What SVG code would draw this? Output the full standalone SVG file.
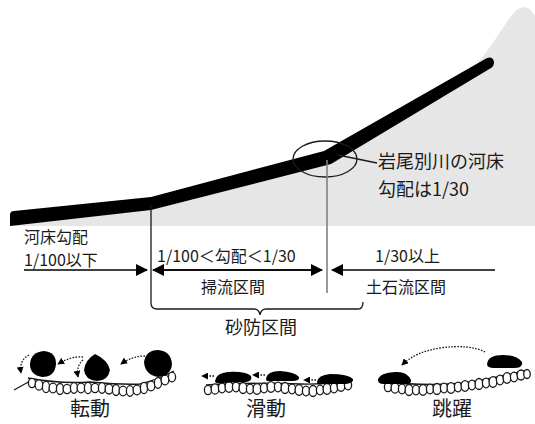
<svg xmlns="http://www.w3.org/2000/svg" width="535" height="424" viewBox="0 0 535 424">
  <style>
    text { font-family: "Noto Sans CJK JP", "Noto Sans", sans-serif; fill: #1a1a1a; }
    .t16 { font-size: 16px; }
    .t18 { font-size: 18px; }
    .t20 { font-size: 20px; }
    .thin { fill: none; stroke: #1a1a1a; stroke-width: 1.3; }
    .dot { fill: none; stroke: #1a1a1a; stroke-width: 1.3; stroke-dasharray: 1.6 1.4; }
    .peb ellipse { fill: #fff; stroke: #1a1a1a; stroke-width: 1.3; }
    .rock { fill: #000; }
  </style>
  <defs>
    <marker id="head" viewBox="0 0 12 12" refX="11" refY="6" markerWidth="12" markerHeight="13" markerUnits="userSpaceOnUse" orient="auto">
      <path d="M0,0 L12,6 L0,12 z" fill="#000"/>
    </marker>
    <marker id="small" viewBox="0 0 8 8" refX="7" refY="4" markerWidth="7" markerHeight="7" markerUnits="userSpaceOnUse" orient="auto">
      <path d="M0,0 L8,4 L0,8 z" fill="#000"/>
    </marker>
  </defs>

  <!-- mountain slope (grey) -->
  <path id="hill" d="M535,16 C530,6 521,3 512,15 C498,34 484,60 452,92 L327,158 L151,204 L10,218 L10,226 L535,226 Z" fill="#e6e6e6"/>

  <!-- river bed profile -->
  <path id="bed" d="M14,211 L151,197 L324,151 L487,58 Q493,56 494,62 Q494,66 491,68 L331,164 L151,210 L10,226 L10,215 Q10,211 14,211 Z" fill="#000"/>

  <!-- gradient callout -->
  <g id="callout">
    <ellipse cx="325" cy="159" rx="32" ry="18" class="thin"/>
    <line x1="338" y1="155" x2="377" y2="163" class="thin"/>
    <text class="t18" x="378" y="168">岩尾別川の河床</text>
    <text class="t18" x="378" y="196">勾配は1/30</text>
  </g>

  <g id="connectors">
    <!-- section boundaries -->
    <path d="M151,205 L151,303 Q151,309 157,309 L254,309 Q259,309 260,315 Q261,309 266,309 L358,309 Q363,309 363,302" class="thin"/>
    <line x1="327" y1="160" x2="327" y2="293" stroke="#808080" stroke-width="1.6"/>
    <!-- range arrows -->
    <line x1="24" y1="270" x2="147" y2="270" stroke="#000" stroke-width="1.3" marker-end="url(#head)"/>
    <line x1="322" y1="270" x2="153" y2="270" stroke="#000" stroke-width="1.3" marker-end="url(#head)"/>
    <line x1="153" y1="270" x2="322" y2="270" stroke="#000" stroke-width="1.3" marker-end="url(#head)"/>
    <line x1="495" y1="270" x2="332" y2="270" stroke="#000" stroke-width="1.3" marker-end="url(#head)"/>
  </g>

  <g id="labels">
    <text class="t16" x="24" y="243">河床勾配</text>
    <text class="t16" x="24" y="266">1/100以下</text>
    <text class="t16" x="157" y="262">1/100＜勾配＜1/30</text>
    <text class="t16" x="375" y="262">1/30以上</text>
    <text class="t16" x="201" y="293">掃流区間</text>
    <text class="t16" x="366" y="293">土石流区間</text>
    <text class="t18" x="225" y="334">砂防区間</text>
  </g>

  <!-- rolling -->
  <g id="rolling">
    <path d="M14,390 L32,380" class="thin"/>
    <path d="M28,378 Q60,384 90,382 Q125,385 140,384 Q160,379 174,371" class="thin"/>
    <g class="peb">
      <ellipse cx="32" cy="383" rx="3.6" ry="4.6"/><ellipse cx="39" cy="385" rx="3.9" ry="5.2"/>
      <ellipse cx="46" cy="387" rx="3.6" ry="5.6"/><ellipse cx="53" cy="388" rx="3.9" ry="4.8"/>
      <ellipse cx="60" cy="389" rx="3.6" ry="5.5"/><ellipse cx="67" cy="389" rx="3.9" ry="4.6"/>
      <ellipse cx="74" cy="388" rx="3.6" ry="5.3"/><ellipse cx="81" cy="388" rx="3.9" ry="4.8"/>
      <ellipse cx="88" cy="388" rx="3.6" ry="5.6"/><ellipse cx="95" cy="388" rx="3.9" ry="4.6"/>
      <ellipse cx="102" cy="388" rx="3.6" ry="5.3"/><ellipse cx="109" cy="389" rx="3.9" ry="5"/>
      <ellipse cx="116" cy="390" rx="3.6" ry="5.5"/><ellipse cx="123" cy="391" rx="3.9" ry="4.8"/>
      <ellipse cx="130" cy="391" rx="3.6" ry="5.3"/><ellipse cx="137" cy="390" rx="3.9" ry="4.8"/>
      <ellipse cx="144" cy="388" rx="3.6" ry="5.6"/><ellipse cx="151" cy="386" rx="3.9" ry="4.8"/>
      <ellipse cx="158" cy="383" rx="3.6" ry="5.3"/><ellipse cx="165" cy="380" rx="3.9" ry="4.8"/>
      <ellipse cx="172" cy="377" rx="3.6" ry="4.8"/>
    </g>
    <path class="rock" d="M30,364 Q31,352 44,351 Q56,352 56,364 Q55,377 42,377 Q30,375 30,364 Z"/>
    <path class="rock" d="M84,370 Q85,360 95,354 Q108,360 110,370 Q108,381 97,381 Q85,380 84,370 Z"/>
    <path class="rock" d="M144,362 Q146,350 158,350 Q171,351 172,364 Q171,376 158,377 Q145,375 144,362 Z"/>
    <path class="dot" d="M145,356 Q132,356 121,364" marker-end="url(#small)"/>
    <path class="dot" d="M83,357 Q71,356 58,364" marker-end="url(#small)"/>
    <path class="dot" d="M29,355 Q19,360 21,373" marker-end="url(#small)"/>
    <path class="dot" d="M83,360 Q76,366 78,377" marker-end="url(#small)"/>
    <text class="t20" x="70" y="416">転動</text>
  </g>

  <!-- sliding -->
  <g id="sliding">
    <path d="M206,385 Q260,382 300,384 Q330,385 352,379" class="thin"/>
    <g class="peb">
      <ellipse cx="208" cy="390" rx="3.6" ry="4.6"/><ellipse cx="215" cy="389" rx="3.9" ry="5.2"/>
      <ellipse cx="222" cy="388" rx="3.6" ry="4.8"/><ellipse cx="229" cy="387" rx="3.9" ry="5.3"/>
      <ellipse cx="236" cy="387" rx="3.6" ry="4.8"/><ellipse cx="243" cy="388" rx="3.9" ry="5.5"/>
      <ellipse cx="250" cy="389" rx="3.6" ry="4.8"/><ellipse cx="257" cy="389" rx="3.9" ry="5.3"/>
      <ellipse cx="264" cy="388" rx="3.6" ry="4.8"/><ellipse cx="271" cy="387" rx="3.9" ry="5.3"/>
      <ellipse cx="278" cy="387" rx="3.6" ry="4.8"/><ellipse cx="285" cy="388" rx="3.9" ry="5.5"/>
      <ellipse cx="292" cy="389" rx="3.6" ry="4.8"/><ellipse cx="299" cy="390" rx="3.9" ry="5.3"/>
      <ellipse cx="306" cy="391" rx="3.6" ry="4.8"/><ellipse cx="313" cy="391" rx="3.9" ry="5.5"/>
      <ellipse cx="320" cy="390" rx="3.6" ry="4.8"/><ellipse cx="327" cy="389" rx="3.9" ry="5.3"/>
      <ellipse cx="334" cy="388" rx="3.6" ry="4.8"/><ellipse cx="341" cy="386" rx="3.9" ry="5.3"/>
      <ellipse cx="348" cy="385" rx="3.6" ry="4.8"/>
    </g>
    <path class="rock" d="M215,381 Q216,373 228,372 Q245,371 251,376 Q253,381 246,382 L222,383 Q215,384 215,381 Z"/>
    <path class="rock" d="M266,379 Q267,371 280,371 Q295,372 299,377 Q300,381 292,381 L272,381 Q266,382 266,379 Z"/>
    <path class="rock" d="M317,382 Q318,375 330,374 Q348,374 353,379 Q354,383 346,384 L322,384 Q317,385 317,382 Z"/>
    <path class="dot" d="M214,376 L202,376" marker-end="url(#small)"/>
    <path class="dot" d="M265,375 L253,375" marker-end="url(#small)"/>
    <path class="dot" d="M316,380 L304,380" marker-end="url(#small)"/>
    <text class="t20" x="246" y="416">滑動</text>
  </g>

  <!-- saltation -->
  <g id="saltation">
    <path d="M380,382 Q440,387 470,382 Q500,377 528,370" class="thin"/>
    <g class="peb">
      <ellipse cx="388" cy="387" rx="3.6" ry="4.6"/><ellipse cx="395" cy="388" rx="3.9" ry="5.2"/>
      <ellipse cx="402" cy="389" rx="3.6" ry="4.8"/><ellipse cx="409" cy="390" rx="3.9" ry="5.5"/>
      <ellipse cx="416" cy="390" rx="3.6" ry="4.8"/><ellipse cx="423" cy="390" rx="3.9" ry="5.3"/>
      <ellipse cx="430" cy="389" rx="3.6" ry="4.8"/><ellipse cx="437" cy="389" rx="3.9" ry="5.5"/>
      <ellipse cx="444" cy="388" rx="3.6" ry="4.8"/><ellipse cx="451" cy="388" rx="3.9" ry="5.3"/>
      <ellipse cx="458" cy="387" rx="3.6" ry="4.8"/><ellipse cx="465" cy="386" rx="3.9" ry="5.3"/>
      <ellipse cx="472" cy="385" rx="3.6" ry="4.8"/><ellipse cx="479" cy="384" rx="3.9" ry="5.5"/>
      <ellipse cx="486" cy="383" rx="3.6" ry="4.8"/><ellipse cx="493" cy="382" rx="3.9" ry="5.3"/>
      <ellipse cx="500" cy="380" rx="3.6" ry="4.8"/><ellipse cx="507" cy="378" rx="3.9" ry="5.3"/>
      <ellipse cx="514" cy="377" rx="3.6" ry="4.8"/><ellipse cx="521" cy="375" rx="3.9" ry="5"/>
      <ellipse cx="527" cy="374" rx="3.3" ry="4.5"/>
    </g>
    <path class="rock" d="M378,379 Q380,373 395,372 Q407,371 411,380 Q412,384 405,384 L384,384 Q377,384 378,379 Z"/>
    <path class="rock" d="M487,364 Q488,355 503,355 Q517,355 522,362 Q523,368 514,368 L494,368 Q487,368 487,364 Z"/>
    <path class="dot" d="M485,352 Q470,344 440,348 Q415,352 402,365" marker-end="url(#small)"/>
    <text class="t20" x="432" y="416">跳躍</text>
  </g>
</svg>
